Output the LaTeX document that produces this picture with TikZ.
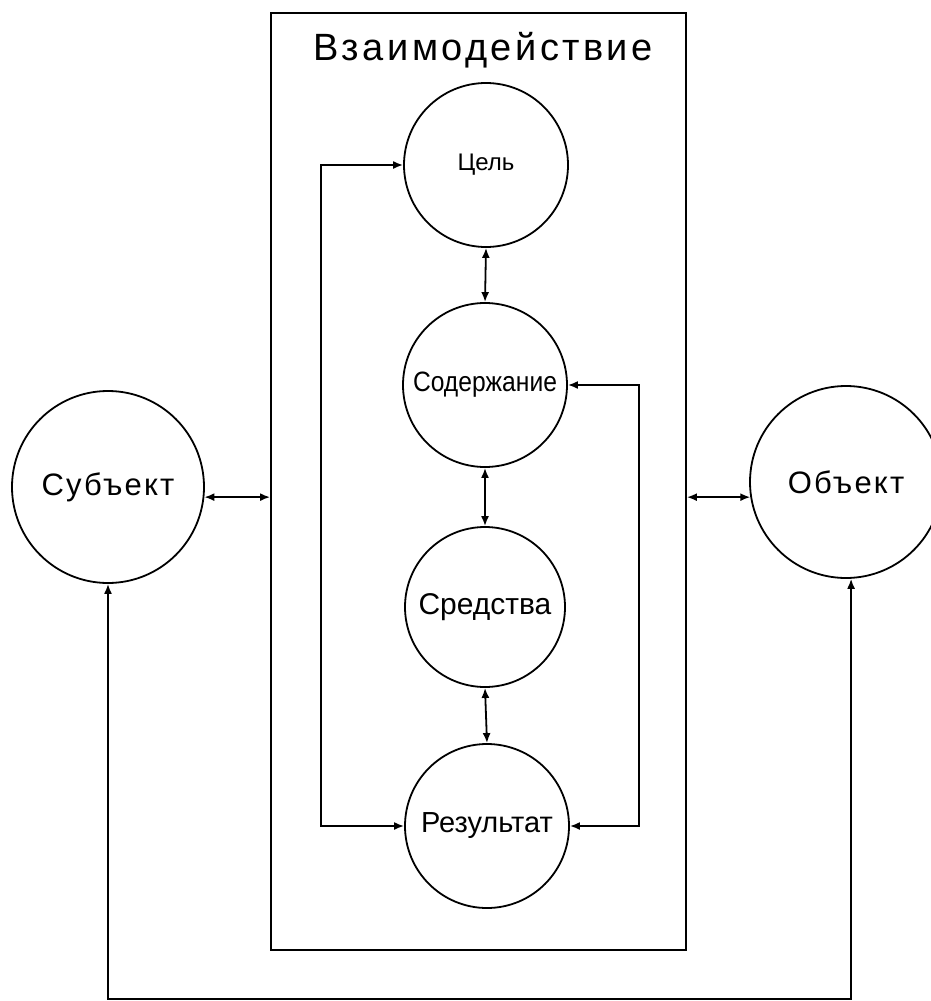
\documentclass[tikz,border=0pt]{standalone}
\usepackage{graphicx}
\usepackage{fontspec}
\setmainfont{Liberation Sans}
\usetikzlibrary{arrows.meta}

\begin{document}
\begin{tikzpicture}[
    x=1pt, y=-1pt,
    every node/.style={inner sep=0pt},
    stage/.style={
      draw,
      circle,
      line width=1.8pt,
      minimum size=164pt,
      font=\fontsize{29}{32}\selectfont
    },
    party/.style={
      draw,
      circle,
      line width=1.8pt,
      minimum size=192pt,
      font=\fontsize{31}{34}\selectfont\addfontfeature{LetterSpace=7}
    },
    link/.style={{Latex[length=10pt,width=8pt]}-{Latex[length=10pt,width=8pt]}, line width=1.8pt}
  ]
  \useasboundingbox (0,0) rectangle (931,1001);

  \node[draw, line width=1.8pt, minimum width=415pt, minimum height=937pt] (frame)
    at (478.5,481.5) {};
  \node[font=\fontsize{38}{42}\selectfont\addfontfeature{LetterSpace=9}] (title)
    at (483,50) {Взаимодействие};

  \node[stage, font=\fontsize{24}{27}\selectfont] (goal) at (486,165) {Цель};
  \node[stage] (content) at (485,385)
    {\scalebox{0.88}[1]{\fontsize{28}{32}\selectfont Содержание}};
  \node[stage, minimum size=160pt, font=\fontsize{30}{33}\selectfont] (means) at (485,607) {Средства};
  \node[stage] (result) at (487,826) {Результат};

  \node[party] (subject) at (108,487) {Субъект};
  \node[party] (object) at (846,482) {Объект};

  \coordinate (left-rail) at (321,0);
  \coordinate (right-rail) at (639,0);
  \coordinate (bottom-rail) at (0,999);

  \draw[link] (goal.south) -- (content.north);
  \draw[link] (content.south) -- (means.north);
  \draw[link] (means.south) -- (result.north);
  \draw[link] (goal.west) -- (goal.west -| left-rail) -- (result.west -| left-rail) -- (result.west);
  \draw[link] (content.east) -- (content.east -| right-rail) -- (result.east -| right-rail) -- (result.east);
  \draw[link] (subject.-6) -- (subject.-6 -| frame.west);
  \draw[link] (object.189) -- (object.189 -| frame.east);
  \draw[link] (subject.south) -- (subject.south |- bottom-rail) -| (object.-87);
\end{tikzpicture}
\end{document}
